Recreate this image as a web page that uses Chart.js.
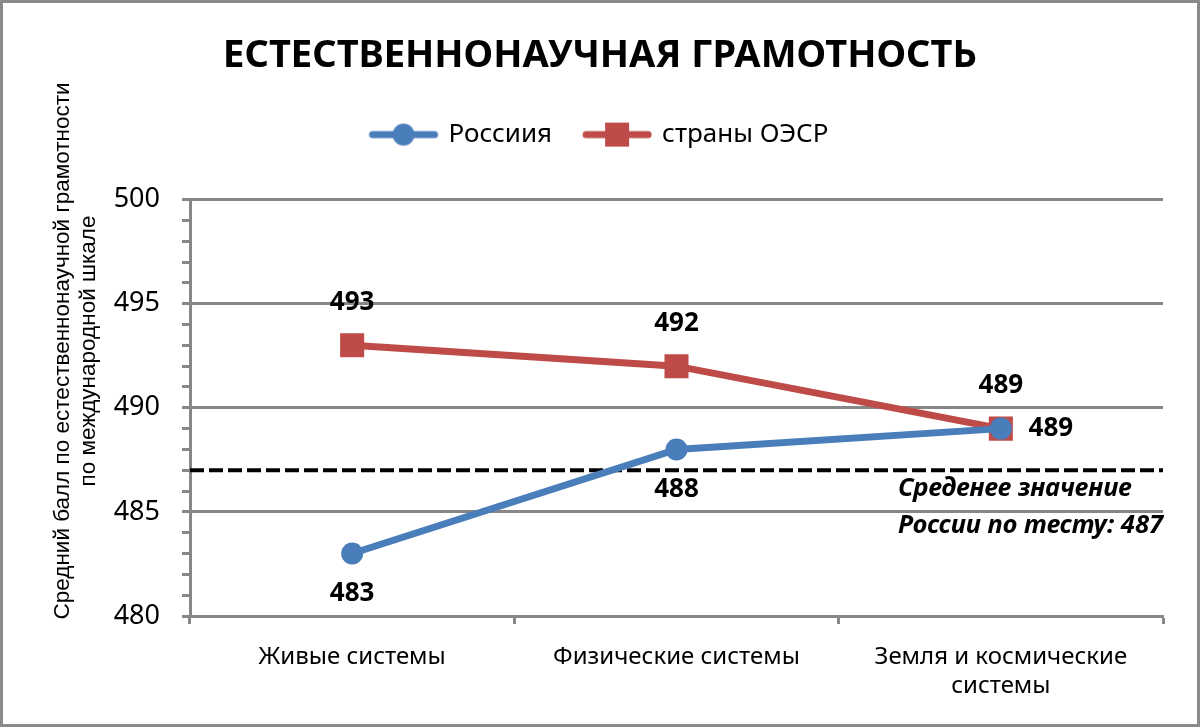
<!DOCTYPE html>
<html lang="ru">
<head>
<meta charset="utf-8">
<title>Естественнонаучная грамотность</title>
<script src="https://cdn.jsdelivr.net/npm/chart.js@4"></script>
<style>
  html, body { margin: 0; padding: 0; background: #fff; }
  #frame { width: 1200px; height: 727px; box-sizing: border-box; border: 3px solid #8a8a8a; background: #fff; }
</style>
</head>
<body>
<div id="frame"><canvas id="chart"></canvas></div>
<script>
// Данные
const categories = ['Живые системы', 'Физические системы', ['Земля и космические', 'системы']];
const russia = [483, 488, 489];
const oecd = [493, 492, 489];
const russiaAverage = 487;
const yMin = 480;
const yMax = 500;
const yLabelStep = 5;
const seriesNames = ['Россиия', 'страны ОЭСР'];
const chartTitle = 'ЕСТЕСТВЕННОНАУЧНАЯ ГРАМОТНОСТЬ';
const yTitle = ['Средний балл по естественнонаучной грамотности', 'по международной шкале'];
const averageNote = ['Среденее значение', 'России по тесту: ' + russiaAverage];

const BLUE = '#4a7ebb';
const RED = '#be4b48';
const GRID = '#878787';

Chart.defaults.color = '#000';
Chart.defaults.font.family = '"Noto Sans", sans-serif';

// Значок легенды: линия с маркером
function legendIcon(color, shape) {
  const c = document.createElement('canvas');
  c.width = 72;
  c.height = 28;
  const g = c.getContext('2d');
  g.strokeStyle = color;
  g.fillStyle = color;
  g.lineWidth = 7;
  g.lineCap = 'round';
  g.beginPath();
  g.moveTo(5, 14);
  g.lineTo(67, 14);
  g.stroke();
  if (shape === 'circle') {
    g.beginPath();
    g.arc(36, 14, 11, 0, Math.PI * 2);
    g.fill();
  } else {
    g.fillRect(24, 2, 24, 24);
  }
  return c;
}

// Отступ под легендой
const legendMargin = {
  id: 'legendMargin',
  beforeInit(chart) {
    const fit = chart.legend.fit;
    chart.legend.fit = function () {
      fit.bind(chart.legend)();
      this.height += 42;
    };
  }
};

// Линия среднего значения и подпись
const averageLine = {
  id: 'averageLine',
  beforeDatasetsDraw(chart) {
    const { ctx, chartArea, scales: { y } } = chart;
    const yPos = y.getPixelForValue(russiaAverage);
    ctx.save();
    ctx.strokeStyle = '#000';
    ctx.lineWidth = 4;
    ctx.setLineDash([14, 5]);
    ctx.beginPath();
    ctx.moveTo(chartArea.left, yPos);
    ctx.lineTo(chartArea.right, yPos);
    ctx.stroke();
    ctx.restore();
  },
  afterDatasetsDraw(chart) {
    const { ctx, chartArea, scales: { y } } = chart;
    const yPos = y.getPixelForValue(russiaAverage);
    ctx.save();
    ctx.font = 'italic bold 25.5px "Noto Sans"';
    ctx.fillStyle = '#000';
    ctx.textAlign = 'left';
    ctx.textBaseline = 'middle';
    const x = chartArea.right - ctx.measureText(averageNote[1]).width;
    ctx.fillText(averageNote[0], x, yPos + 18);
    ctx.fillText(averageNote[1], x, yPos + 55);
    ctx.restore();
  }
};

// Подписи значений у точек
const pointLabels = {
  id: 'pointLabels',
  afterDatasetsDraw(chart, args, opts) {
    const ctx = chart.ctx;
    ctx.save();
    ctx.font = 'bold 26px "Noto Sans"';
    ctx.fillStyle = '#000';
    ctx.textAlign = 'center';
    ctx.textBaseline = 'middle';
    chart.data.datasets.forEach((ds, i) => {
      chart.getDatasetMeta(i).data.forEach((pt, j) => {
        const place = opts.placements[i][j];
        let x = pt.x, yy = pt.y;
        if (place === 'above') yy -= 43;
        else if (place === 'below') yy += 40;
        else if (place === 'right') x += 50;
        ctx.fillText(ds.data[j], x, yy);
      });
    });
    ctx.restore();
  }
};

// Название оси Y
const yAxisTitle = {
  id: 'yAxisTitle',
  afterDraw(chart) {
    const ctx = chart.ctx;
    ctx.save();
    ctx.translate(0, 348);
    ctx.rotate(-Math.PI / 2);
    ctx.font = '22.5px "Liberation Sans"';
    ctx.fillStyle = '#000';
    ctx.textAlign = 'center';
    ctx.textBaseline = 'middle';
    ctx.fillText(yTitle[0], 0, 60);
    ctx.fillText(yTitle[1], 0, 86);
    ctx.restore();
  }
};

new Chart(document.getElementById('chart'), {
  type: 'line',
  data: {
    labels: categories,
    datasets: [{
      label: seriesNames[0],
      data: russia,
      borderColor: BLUE,
      backgroundColor: BLUE,
      borderWidth: 7,
      pointStyle: 'circle',
      pointRadius: 11,
      pointBorderWidth: 0,
      tension: 0
    }, {
      label: seriesNames[1],
      data: oecd,
      borderColor: RED,
      backgroundColor: RED,
      borderWidth: 7,
      pointStyle: 'rect',
      pointRadius: 17,
      pointBorderWidth: 0,
      tension: 0
    }]
  },
  options: {
    responsive: true,
    maintainAspectRatio: false,
    animation: false,
    layout: { padding: 0 },
    plugins: {
      title: {
        display: true,
        text: chartTitle,
        font: { size: 38, weight: 'bold' },
        color: '#000',
        padding: { top: 30, bottom: 10 }
      },
      legend: {
        display: true,
        labels: {
          usePointStyle: true,
          pointStyleWidth: 64,
          padding: 33,
          font: { size: 26 },
          color: '#000',
          generateLabels(chart) {
            return chart.data.datasets.map((ds, i) => ({
              text: ds.label,
              fontColor: '#000',
              pointStyle: legendIcon(ds.borderColor, i === 0 ? 'circle' : 'rect'),
              datasetIndex: i,
              lineWidth: 0,
              strokeStyle: 'transparent',
              fillStyle: 'transparent'
            }));
          }
        }
      },
      tooltip: { enabled: false },
      pointLabels: {
        placements: [['below', 'below', 'right'], ['above', 'above', 'above']]
      }
    },
    scales: {
      x: {
        offset: true,
        grid: {
          offset: true,
          drawOnChartArea: false,
          tickLength: 8,
          tickColor: GRID,
          tickWidth: 3
        },
        border: { color: GRID, width: 3 },
        ticks: { font: { size: 24 }, color: '#000', padding: 19, maxRotation: 0 },
        afterFit(scale) { scale.height = 108; }
      },
      y: {
        min: yMin,
        max: yMax,
        grid: {
          color: ctx => (ctx.tick && ctx.tick.value % yLabelStep === 0) ? GRID : 'rgba(0,0,0,0)',
          lineWidth: 3,
          tickColor: GRID,
          tickWidth: 3,
          tickLength: 8
        },
        border: { color: GRID, width: 3 },
        ticks: {
          stepSize: 1,
          autoSkip: false,
          padding: 22,
          font: { size: 27 },
          color: '#000',
          callback: v => (v % yLabelStep === 0 ? v : '')
        },
        afterFit(scale) { scale.width = 187; }
      },
      // пустое поле справа от области построения
      rightGap: {
        type: 'linear',
        position: 'right',
        display: true,
        grid: { display: false, drawTicks: false },
        border: { display: false },
        ticks: { display: false },
        afterFit(scale) { scale.width = 34; }
      }
    }
  },
  plugins: [legendMargin, averageLine, pointLabels, yAxisTitle]
});
</script>
</body>
</html>
